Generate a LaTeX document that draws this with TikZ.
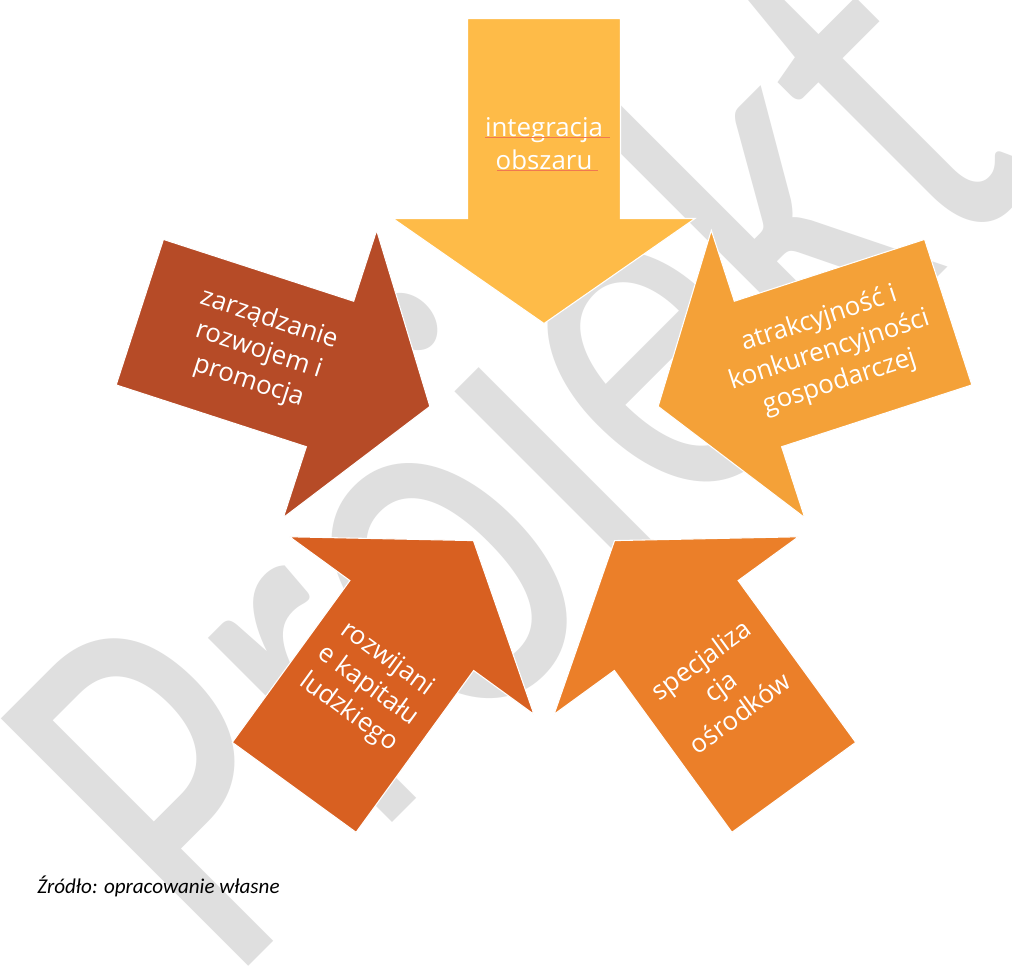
\documentclass[tikz,border=0pt]{standalone}
\usepackage{fontspec}
\setmainfont{Open Sans}
\newfontfamily\wmfont{Carlito}
\newfontfamily\capfont{Carlito}
\definecolor{wmgray}{RGB}{223,223,223}
\definecolor{cTop}{RGB}{254,187,72}
\definecolor{cLeft}{RGB}{182,75,39}
\definecolor{cRight}{RGB}{244,161,56}
\definecolor{cBL}{RGB}{216,96,33}
\definecolor{cBR}{RGB}{235,127,41}
\definecolor{uline}{RGB}{240,120,80}
\begin{document}
\begin{tikzpicture}[x=0.75pt,y=-0.75pt,
  arrowshape/.style={draw=white, line width=0.8pt, line join=miter},
  lbl/.style={text=white, font=\fontsize{19.4}{24.75}\selectfont, align=center, inner sep=0pt},
  ulinestyle/.style={draw=uline, line width=0.6pt}]
\useasboundingbox (0,0) rectangle (1012,965);
\clip (0,0) rectangle (1012,965);
\fill[white] (0,0) rectangle (1012,965);
% watermark
\begin{scope}[shift={(228,987)}]
\node[rotate=45, xscale=2.985, yscale=4.09, transform shape, anchor=base west, inner sep=0pt, text=wmgray, font=\wmfont\fontsize{100}{100}\selectfont] (wm) at (0,0) {Projekt};
\end{scope}
% arrows
\foreach \ang/\col in {0/cTop,72/cLeft,-72/cRight,144/cBL,-144/cBR} {
  \begin{scope}[shift={(544,443.5)}, rotate=\ang]
    \path[arrowshape, fill=\col] (76.5,-425) -- (76.5,-225) -- (151,-225) -- (0,-120) -- (-151,-225) -- (-76.5,-225) -- (-76.5,-425) -- cycle;
  \end{scope}
}
% labels
\node[lbl] (t1) at (544,143.5) {integracja\\obszaru};
\node[lbl, rotate=-18] (t2) at (258.7,350.8) {zarządzanie\\rozwojem i\\promocja};
\node[lbl, rotate=18] (t3) at (829.3,350.8) {atrakcyjność i\\konkurencyjności\\gospodarczej};
\node[lbl, rotate=-36] (t4) at (367.7,686.2) {rozwijani\\e kapitału\\ludzkiego};
\node[lbl, rotate=36] (t5) at (720.3,686.2) {specjaliza\\cja\\ośrodków};
\coordinate (u1a) at (485,137); \coordinate (u1b) at (610,137);
\coordinate (u2a) at (497,170); \coordinate (u2b) at (598,170);
\draw[ulinestyle] (u1a) -- (u1b);
\draw[ulinestyle] (u2a) -- (u2b);
% caption
\node[anchor=base west, inner sep=0pt, font=\capfont\itshape\fontsize{15.8}{19}\selectfont] (cap) at (37,893) {Źródło: opracowanie własne};
\end{tikzpicture}
\end{document}
